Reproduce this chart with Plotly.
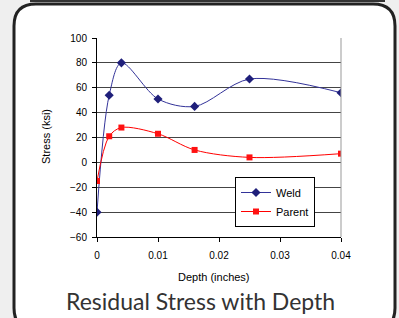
import plotly.graph_objects as go

depth = [0, 0.002, 0.004, 0.01, 0.016, 0.025, 0.04]
weld = [-40, 54, 80, 51, 45, 67, 56]
parent = [-15, 21, 28, 23, 10, 4, 7]
x_ticks = [0, 0.01, 0.02, 0.03, 0.04]
x_tick_text = ["0", "0.01", "0.02", "0.03", "0.04"]
y_ticks = [-60, -40, -20, 0, 20, 40, 60, 80, 100]

W, H = 399, 318
L, R, T, B = 97, 341, 38, 237

def px(x):
    return (x - L) / (R - L)

def py(y):
    return (B - y) / (B - T)

fig = go.Figure()
fig.add_trace(go.Scatter(x=depth, y=weld, name="Weld", mode="lines+markers",
                         line=dict(color="#333399", width=1, shape="spline", smoothing=0.9),
                         marker=dict(symbol="diamond", size=7, color="#1f1f7a")))
fig.add_trace(go.Scatter(x=depth, y=parent, name="Parent", mode="lines+markers",
                         line=dict(color="#ff0000", width=1, shape="spline", smoothing=0.9),
                         marker=dict(symbol="square", size=6, color="#ff1111")))

# rounded panel
x0, x1, y0, y1, r = 14, 395, 4, 330, 22
path = (f"M {px(x0+r)},{py(y0)} L {px(x1-r)},{py(y0)} Q {px(x1)},{py(y0)} {px(x1)},{py(y0+r)} "
        f"L {px(x1)},{py(y1-r)} Q {px(x1)},{py(y1)} {px(x1-r)},{py(y1)} "
        f"L {px(x0+r)},{py(y1)} Q {px(x0)},{py(y1)} {px(x0)},{py(y1-r)} "
        f"L {px(x0)},{py(y0+r)} Q {px(x0)},{py(y0)} {px(x0+r)},{py(y0)} Z")
shapes = [
    dict(type="path", xref="paper", yref="paper", path=path, fillcolor="white",
         line=dict(color="#222222", width=3), layer="below"),
    dict(type="line", xref="paper", yref="paper", x0=px(30), x1=px(385), y0=py(1), y1=py(1),
         line=dict(color="#333333", width=2), layer="below"),
    dict(type="line", xref="paper", yref="paper", x0=1, x1=1, y0=0, y1=1,
         line=dict(color="#999999", width=1)),
]

fig.update_layout(
    width=W, height=H,
    margin=dict(l=L, r=W - R, t=T, b=H - B, pad=0),
    paper_bgcolor="#efefef", plot_bgcolor="white",
    font=dict(family="Liberation Sans, Arial", size=10, color="black"),
    shapes=shapes,
    showlegend=True,
    legend=dict(x=px(235), y=py(177), xanchor="left", yanchor="top",
                bordercolor="black", borderwidth=1, bgcolor="white",
                font=dict(size=11), itemwidth=30, tracegroupgap=0),
    xaxis=dict(range=[0, 0.04], tickvals=x_ticks, ticktext=x_tick_text,
               showgrid=False, zeroline=False, showline=True, linecolor="black", linewidth=1,
               ticks="outside", ticklen=4, tickcolor="black", tickfont=dict(size=10),
               ticklabelstandoff=5),
    yaxis=dict(range=[-60, 100], tickvals=y_ticks, showgrid=True, gridcolor="#444444", gridwidth=1,
               zeroline=False, showline=True, linecolor="black", linewidth=1,
               ticks="outside", ticklen=4, tickcolor="black", tickfont=dict(size=10),
               ticklabelstandoff=3),
    annotations=[
        dict(text="Stress (ksi)", xref="paper", yref="paper", x=px(46), y=py(137),
             xanchor="center", yanchor="middle",
             textangle=-90, showarrow=False, font=dict(size=11)),
        dict(text="Depth (inches)", xref="paper", yref="paper", x=px(214), y=py(277),
             xanchor="center", yanchor="middle",
             showarrow=False, font=dict(size=11)),
        dict(text="Residual Stress with Depth", xref="paper", yref="paper", x=px(200), y=py(301),
             xanchor="center", yanchor="middle",
             showarrow=False, font=dict(size=23, family="Lato, Open Sans", color="#333333")),
    ],
)

fig.write_html("out.html", config={"displayModeBar": False},
               post_script="document.body.style.margin='0';document.body.style.overflow='hidden';")
